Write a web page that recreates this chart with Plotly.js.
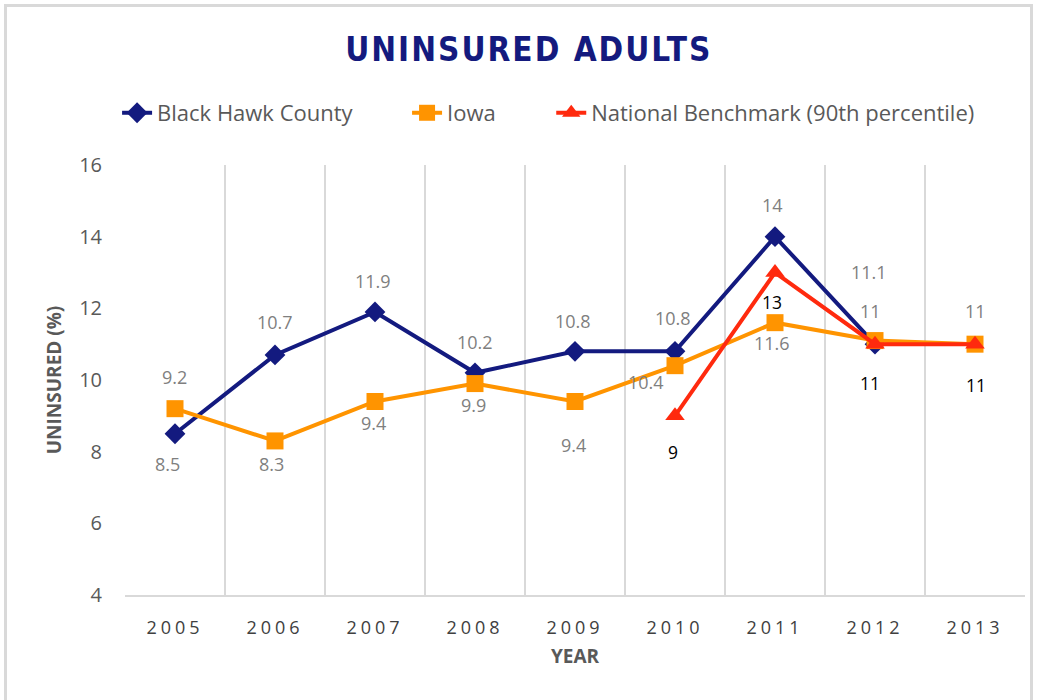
<!DOCTYPE html>
<html>
<head>
<meta charset="utf-8">
<script src="https://cdn.plot.ly/plotly-3.0.1.min.js"></script>
<style>
  html, body { margin: 0; padding: 0; background: #fff; }
  #wrap { position: relative; width: 1041px; height: 700px; overflow: hidden; }
  #frame { position: absolute; left: 4px; top: 4px; width: 1029px; height: 720px; border: 3px solid #d9d9d9; pointer-events: none; box-sizing: border-box; }
  #chart { position: absolute; left: 0; top: 0; width: 1041px; height: 700px; }
</style>
</head>
<body>
<div id="wrap">
  <div id="chart"></div>
  <div id="frame"></div>
</div>
<script>
// ---- data ----
const years = ['2005', '2006', '2007', '2008', '2009', '2010', '2011', '2012', '2013'];
const blackHawk = [8.5, 10.7, 11.9, 10.2, 10.8, 10.8, 14, 11, null];
const iowa = [9.2, 8.3, 9.4, 9.9, 9.4, 10.4, 11.6, 11.1, 11];
const benchmark = [null, null, null, null, null, 9, 13, 11, 11];
const seriesNames = ['Black Hawk County', 'Iowa', 'National Benchmark (90th percentile)'];

// ---- label offsets (px, styling only) ----
const bhShiftY = [-30, 33, 31, 31, 30, 33, 32, 33, 0];
const bhShiftX = [-8, 0, -2, 0, -2, -2, -3, -5, 0];
const iaShiftY = [32, -23, -21, -21, -43, -16, -20, 69, 33];
const iaShiftX = [-1, -4, -2, -2, -2, -29, -3, -6, 0];
const bmShiftY = [0, 0, 0, 0, 0, -36, -29, -39, -41];
const bmShiftX = [0, 0, 0, 0, 0, -2, -3, -5, 1];

const navy = '#131a7f';
const orange = '#ff9400';
const red = '#ff2a0e';

const traces = [
  { x: years, y: blackHawk, name: seriesNames[0], type: 'scatter', mode: 'lines+markers', legend: 'legend',
    line: { color: navy, width: 4 }, marker: { symbol: 'diamond', size: 16, color: navy },
    connectgaps: false, cliponaxis: false },
  { x: years, y: iowa, name: seriesNames[1], type: 'scatter', mode: 'lines+markers', legend: 'legend2',
    line: { color: orange, width: 4 }, marker: { symbol: 'square', size: 17, color: orange },
    cliponaxis: false },
  { x: years, y: benchmark, name: seriesNames[2], type: 'scatter', mode: 'lines+markers', legend: 'legend3',
    line: { color: red, width: 4 }, marker: { symbol: 'triangle-up', size: 17, color: red },
    cliponaxis: false }
];

const annotations = [];
function addLabels(vals, sx, sy, color, size) {
  vals.forEach((v, i) => {
    if (v === null) return;
    annotations.push({ x: i, y: v, xref: 'x', yref: 'y', text: String(v), showarrow: false,
      xanchor: 'center', yanchor: 'middle',
      xshift: sx[i], yshift: sy[i], font: { family: 'Open Sans', size: size, color: color } });
  });
}
addLabels(blackHawk, bhShiftX, bhShiftY, '#7f7f7f', 18);
addLabels(iowa, iaShiftX, iaShiftY, '#7f7f7f', 18);
addLabels(benchmark, bmShiftX, bmShiftY, '#000000', 17.5);

const legendFont = { family: 'Open Sans', size: 22, color: '#595959' };
function legendAt(x) {
  return { orientation: 'h', x: x, xanchor: 'left', y: 1.121, yanchor: 'middle', font: legendFont,
    bgcolor: 'rgba(0,0,0,0)', borderwidth: 0 };
}

const layout = {
  width: 1041, height: 700,
  margin: { l: 125, r: 16, t: 165, b: 105 },
  paper_bgcolor: 'rgba(0,0,0,0)', plot_bgcolor: 'rgba(0,0,0,0)',
  title: { text: '<b>UNINSURED ADULTS</b>', x: 0.508, xanchor: 'center', xref: 'container',
    y: 0.929, yanchor: 'middle', yref: 'container',
    font: { family: 'DejaVu Sans Condensed, sans-serif', size: 33, color: '#141a7e' } },
  showlegend: true,
  legend: legendAt(-0.0088),
  legend2: legendAt(0.3134),
  legend3: legendAt(0.4736),
  xaxis: { type: 'category', range: [-0.5, 8.5], tickson: 'boundaries', showgrid: true,
    gridcolor: '#d9d9d9', gridwidth: 2, showline: true, linecolor: '#d9d9d9', linewidth: 2,
    ticks: '', ticklabelstandoff: 15, zeroline: false,
    tickfont: { family: 'Open Sans', size: 18, color: '#404040' },
    title: { text: '<b>YEAR</b>', standoff: 12, font: { family: 'Open Sans', size: 19, color: '#595959' } } },
  yaxis: { range: [4, 16], dtick: 2, tick0: 4, showgrid: false, zeroline: false, showline: false,
    ticks: '', ticklabelstandoff: 22,
    tickfont: { family: 'Open Sans', size: 20, color: '#595959' },
    title: { text: '<b>UNINSURED (%)</b>', standoff: 12, font: { family: 'Open Sans', size: 19, color: '#595959' } } },
  annotations: annotations
};

Plotly.newPlot('chart', traces, layout, { displayModeBar: false, staticPlot: true }).then(() => {
  document.querySelectorAll('.xtick text').forEach(t => { t.style.letterSpacing = '4px'; });
  const tt = document.querySelector('.gtitle');
  if (tt) tt.style.letterSpacing = '2px';
});
</script>
</body>
</html>
